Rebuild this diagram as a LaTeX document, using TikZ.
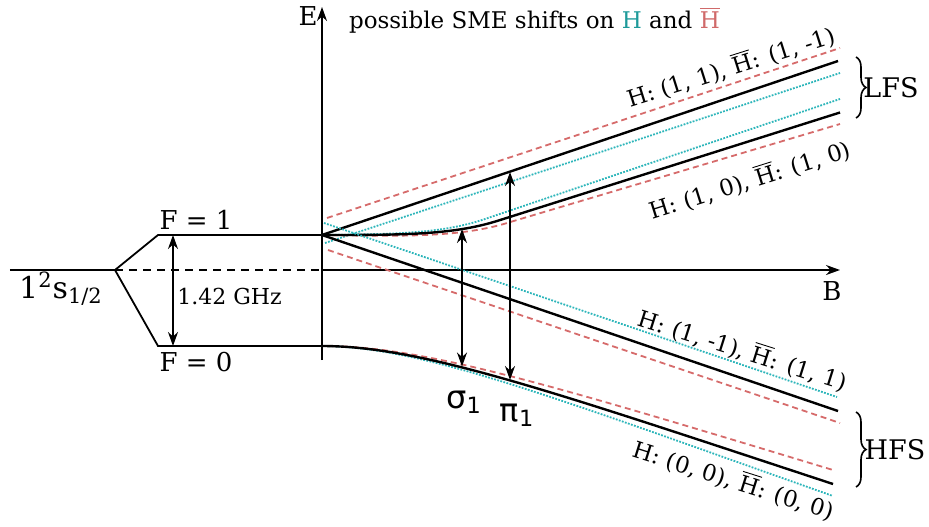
\documentclass[tikz,border=0pt]{standalone}
\usepackage{fontspec}
\setmainfont{DejaVu Serif}
\newfontfamily\greekfont{DejaVu Sans}
\usepackage{amsmath}
\usetikzlibrary{positioning,arrows.meta,decorations.pathreplacing}
\definecolor{smered}{HTML}{D66B6B}
\definecolor{smecyan}{HTML}{2CB5BA}
\definecolor{hclr}{HTML}{1E9A9A}
\definecolor{hbarclr}{HTML}{D06A6A}
\newcommand{\antiH}{\ensuremath{\overline{\text{H}}}}
\tikzset{
  eaxis/.style      = {-{Stealth[length=7pt,width=5pt]}, line width=0.8pt},
  hfline/.style     = {line width=0.9pt},
  zeeman/.style     = {line width=1.2pt},
  hshift/.style     = {smecyan, line width=0.9pt, dash pattern=on 0.9pt off 0.7pt},
  hbarshift/.style  = {smered, line width=0.9pt, dash pattern=on 3pt off 2pt},
  transarrow/.style = {{Stealth[length=7pt,width=5pt]}-{Stealth[length=7pt,width=5pt]},
                       line width=0.8pt},
  lbl/.style        = {font=\fontsize{13}{15}\selectfont, inner sep=1pt},
  biglbl/.style     = {font=\fontsize{13}{15}\selectfont, inner sep=1pt},
  statelbl/.style   = {font=\fontsize{11.4}{13}\selectfont, inner sep=1pt},
  fsbrace/.style    = {decorate, decoration={brace, amplitude=5pt}, line width=0.8pt},
}

\begin{document}
\begin{tikzpicture}[x=25pt, y=25pt]
\useasboundingbox (-6.44,-5.12) rectangle (12.14,5.4);

%% =====================================================================
%% Axes
%% =====================================================================
\coordinate (origin) at (0,0);
\coordinate (etop)   at (0,5.26);
\coordinate (ebot)   at (0,-1.8);
\coordinate (bend)   at (10.36,0);
\draw[eaxis] (ebot) -- (etop);
\draw[eaxis] (origin) -- (bend);
\node[lbl] (elbl) at (-0.28,5.08) {E};
\node[lbl] (blbl) at (10.2,-0.42) {B};

\node[anchor=west, font=\fontsize{11.5}{13}\selectfont] (title) at (0.4,5.0)
  {possible SME shifts on \textcolor{hclr}{H} and \textcolor{hbarclr}{\antiH}};

%% =====================================================================
%% Zero field: hyperfine splitting
%% =====================================================================
\coordinate (gs_l) at (-6.24,0);
\coordinate (gs_r) at (-4.14,0);
\coordinate (f1_l) at (-3.28,0.7);
\coordinate (f1_r) at (0,0.7);
\coordinate (f0_l) at (-3.28,-1.52);
\coordinate (f0_r) at (0,-1.52);
\coordinate (hf_top) at (-2.98,0.7);
\coordinate (hf_bot) at (-2.98,-1.52);

\draw[hfline] (gs_l) -- (gs_r);
\draw[hfline, dash pattern=on 4pt off 3pt] (gs_r) -- (origin);
\draw[hfline] (gs_r) -- (f1_l) -- (f1_r);
\draw[hfline] (gs_r) -- (f0_l) -- (f0_r);
\draw[transarrow] (hf_top) -- (hf_bot);

\node[biglbl] (f1lbl) at (-2.52,1.0) {F = 1};
\node[biglbl] (f0lbl) at (-2.52,-1.84) {F = 0};
\node[anchor=west, font=\fontsize{11}{13}\selectfont, inner sep=1pt] (hflbl)
  at (-2.94,-0.52) {1.42 GHz};
\node[font=\fontsize{15}{17}\selectfont] (gslbl) at (-5.22,-0.38)
  {1\textsuperscript{2}s\textsubscript{1/2}};

%% =====================================================================
%% Zeeman states with SME shifts (H dotted, Hbar dashed)
%% =====================================================================
% (1, 1)
\draw[hbarshift] (0.1,1.04) -- (10.36,4.44);
\draw[hshift]    (0.06,0.54) -- (10.36,3.94);
\draw[zeeman]    (f1_r) -- (10.32,4.18);
% (1, 0)
\draw[hshift]    (f1_r) .. controls (1.3,0.72) and (2.3,0.71) .. (3.2,1.0) -- (10.36,3.42);
\draw[hbarshift] (f1_r) .. controls (1.9,0.66) and (2.9,0.68) .. (3.8,0.97) -- (10.36,2.92);
\draw[zeeman]    (f1_r) .. controls (1.6,0.7) and (2.6,0.7) .. (3.5,0.98) -- (10.36,3.15);
% (1, -1)
\draw[hshift]    (0.04,0.94) -- (10.3,-2.54);
\draw[hbarshift] (0.12,0.4) -- (10.36,-3.06);
\draw[zeeman]    (f1_r) -- (10.32,-2.82);
% (0, 0)
\draw[hbarshift] (f0_r) .. controls (2.0,-1.51) and (4.6,-2.3) .. (10.22,-4.0);
\draw[hshift]    (f0_r) .. controls (2.0,-1.53) and (4.6,-2.53) .. (10.22,-4.52);
\draw[zeeman]    (f0_r) .. controls (2.0,-1.52) and (4.6,-2.43) .. (10.22,-4.28);

\node[statelbl, rotate=17.5]  (lfs1) at (8.18,4.06)  {H: (1, 1), \antiH: (1, -1)};
\node[statelbl, rotate=17.5]  (lfs0) at (8.56,1.8)   {H: (1, 0), \antiH: (1, 0)};
\node[statelbl, rotate=-17.5] (hfs1) at (8.42,-1.6)  {H: (1, -1), \antiH: (1, 1)};
\node[statelbl, rotate=-17.5] (hfs0) at (8.24,-4.2)  {H: (0, 0), \antiH: (0, 0)};

%% --- transitions --------------------------------------------------------
\coordinate (s1_top) at (2.8,0.82);
\coordinate (s1_bot) at (2.8,-1.93);
\coordinate (p1_top) at (3.76,1.96);
\coordinate (p1_bot) at (3.76,-2.2);
\draw[transarrow] (s1_top) -- (s1_bot);
\draw[transarrow] (p1_top) -- (p1_bot);
\node[font=\fontsize{16}{18}\greekfont] (s1lbl) at (2.84,-2.64) {σ\textsubscript{1}};
\node[font=\fontsize{16}{18}\greekfont] (p1lbl) at (3.9,-2.9)   {π\textsubscript{1}};

%% --- braces -------------------------------------------------------------
\coordinate (lfs_t) at (10.68,4.26);
\coordinate (lfs_b) at (10.68,3.04);
\coordinate (hfs_t) at (10.68,-2.84);
\coordinate (hfs_b) at (10.68,-4.34);
\draw[fsbrace] (lfs_t) -- (lfs_b);
\draw[fsbrace] (hfs_t) -- (hfs_b);
\node[font=\fontsize{13.5}{15}\selectfont] (lfslbl) at (11.38,3.64) {LFS};
\node[font=\fontsize{13.5}{15}\selectfont] (hfslbl) at (11.46,-3.6) {HFS};

\end{tikzpicture}
\end{document}
